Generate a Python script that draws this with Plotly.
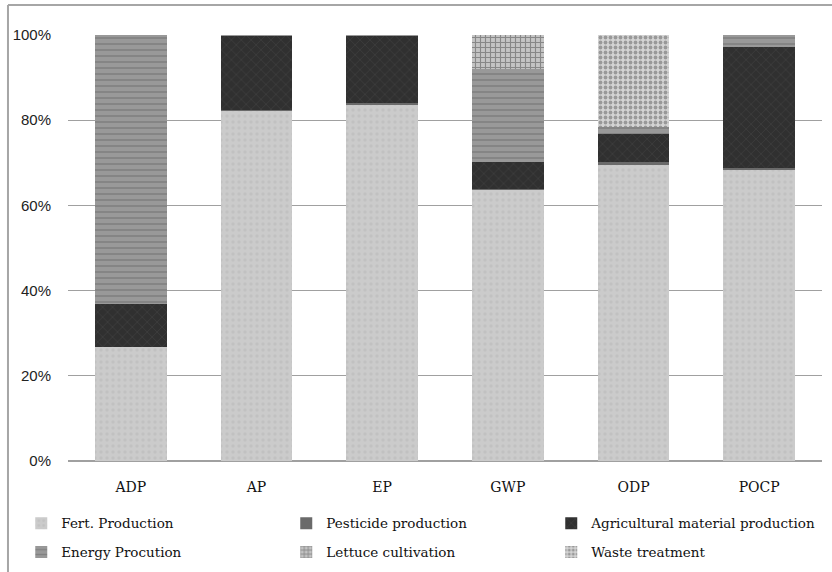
import plotly.graph_objects as go

categories = ["ADP", "AP", "EP", "GWP", "ODP", "POCP"]
fert = [26.8, 82.2, 83.8, 63.7, 69.5, 68.3]
pesticide = [0.0, 0.3, 0.2, 0.2, 0.6, 0.5]
agri = [10.1, 17.3, 15.8, 6.2, 6.7, 28.4]
energy = [63.1, 0.2, 0.2, 21.9, 1.6, 2.8]
lettuce = [0.0, 0.0, 0.0, 8.0, 0.0, 0.0]
waste = [0.0, 0.0, 0.0, 0.0, 21.6, 0.0]
y_ticks = [0, 20, 40, 60, 80, 100]

series = [
    ("Fert. Production", fert, "legend",
     dict(color="#c6c6c6", pattern=dict(shape=".", fgcolor="#b8b8b8", bgcolor="#cbcbcb", size=6, solidity=0.25))),
    ("Pesticide production", pesticide, "legend", dict(color="#6a6a6a")),
    ("Agricultural material production", agri, "legend",
     dict(color="#363636", pattern=dict(shape="x", fgcolor="#4e4e4e", bgcolor="#303030", size=7, solidity=0.2))),
    ("Energy Procution", energy, "legend2",
     dict(color="#8c8c8c", pattern=dict(shape="-", fgcolor="#6c6c6c", bgcolor="#999999", size=6, solidity=0.3))),
    ("Lettuce cultivation", lettuce, "legend2",
     dict(color="#a0a0a0", pattern=dict(shape="+", fgcolor="#4a4a4a", bgcolor="#c4c4c4", size=5, solidity=0.4))),
    ("Waste treatment", waste, "legend2",
     dict(color="#c0c0c0", pattern=dict(shape=".", fgcolor="#5e5e5e", bgcolor="#d4d4d4", size=5, solidity=0.45))),
]

fig = go.Figure()
for name, vals, leg, marker in series:
    marker = dict(marker)
    marker["line"] = dict(width=0)
    fig.add_trace(go.Bar(name=name, x=categories, y=vals, marker=marker, legend=leg))

legend_font = dict(family="DejaVu Serif", size=13.5, color="#111111")
common_legend = dict(
    orientation="h",
    x=-0.062,
    xanchor="left",
    yanchor="top",
    entrywidth=220,
    itemwidth=30,
    font=legend_font,
    traceorder="normal",
    bgcolor="rgba(0,0,0,0)",
)

fig.update_layout(
    barmode="stack",
    barnorm="percent",
    bargap=0.43,
    width=832,
    height=572,
    margin=dict(l=68, r=10, t=35, b=110.5, autoexpand=False),
    paper_bgcolor="white",
    plot_bgcolor="white",
    font=dict(family="DejaVu Serif", size=14, color="#111111"),
    legend=dict(common_legend, y=-0.110),
    legend2=dict(common_legend, y=-0.178),
    showlegend=True,
)
fig.update_xaxes(
    showgrid=False,
    showline=False,
    ticks="",
    ticklabelstandoff=16,
    tickfont=dict(family="DejaVu Serif", size=14, color="#111111"),
)
fig.update_yaxes(
    range=[0, 100],
    tickvals=y_ticks,
    ticktext=[f"{v}%" for v in y_ticks],
    showgrid=True,
    gridcolor="#a0a0a0",
    gridwidth=1,
    zeroline=True,
    zerolinecolor="#a0a0a0",
    showline=False,
    ticks="",
    ticklabelstandoff=16,
    tickfont=dict(family="Liberation Sans", size=15, color="#222222"),
)
# outer chart border (top and left edges visible)
fig.add_shape(type="line", xref="paper", yref="paper", x0=-0.0796, x1=1.02, y0=1.0703, y1=1.0703,
              line=dict(color="#a6a6a6", width=2))
fig.add_shape(type="line", xref="paper", yref="paper", x0=-0.0796, x1=-0.0796, y0=1.0703, y1=-0.27,
              line=dict(color="#a6a6a6", width=2))

fig.write_html("out.html")
